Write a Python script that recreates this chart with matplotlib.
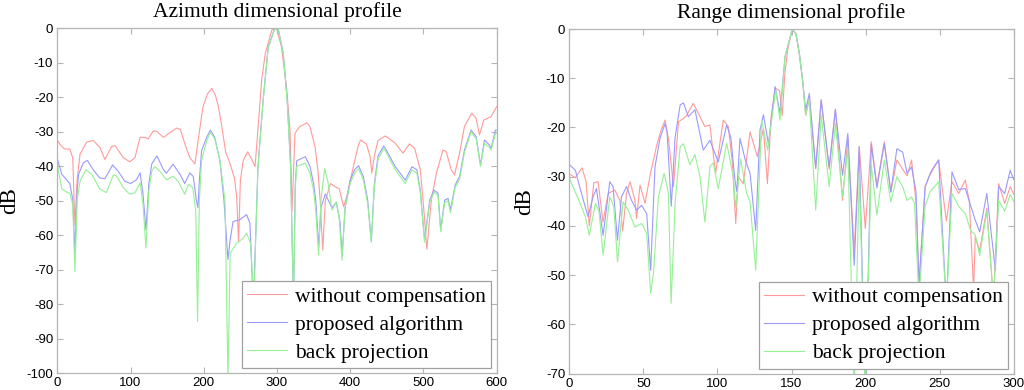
import matplotlib
matplotlib.use("Agg")
import matplotlib.pyplot as plt

# ---------------- data: Azimuth dimensional profile ----------------
az_red_x = [0, 5, 10, 17, 21, 24, 27, 31, 40, 49, 58, 65, 74, 79, 90, 99, 106, 113, 120, 124,
            131, 136, 145, 154, 163, 168, 175, 181, 188, 193, 199, 205, 211, 216, 220, 225, 230,
            236, 242, 245, 247.5, 250, 254, 260, 266, 270, 275, 279, 284, 293, 299.5, 306, 313,
            317.8, 320.5, 324.6, 331, 341, 345, 352, 356, 359, 362.5, 366, 373, 380, 385, 391,
            395, 404, 411, 414, 422, 427, 429.5, 433, 438, 448, 461.5, 472, 481, 488, 495.7,
            500.2, 504.7, 510.8, 517.7, 526.7, 531, 538, 542.5, 549.3, 556, 566, 572, 576.5,
            582.4, 592.4, 600]
az_red_y = [-32.5, -34, -35, -35, -37.5, -57, -44, -36.5, -33, -32.5, -34.5, -38, -34.3, -34,
            -37.5, -38.7, -37.5, -31.6, -31.6, -32.1, -29.7, -29.9, -31.6, -30.2, -28.9, -29.3,
            -34, -37.5, -39.3, -31.4, -22.7, -19, -17.4, -19.5, -22.7, -29, -36, -39.3, -43.5,
            -49, -62, -44, -38.2, -35.8, -38.2, -40.1, -26.6, -15, -7.3, -0.5, 0, -5.3, -17,
            -29.5, -53, -30.4, -28.5, -27.4, -28.5, -34.3, -41.4, -50, -64.3, -50, -45, -46,
            -46.5, -51.7, -49, -40.4, -34, -32.4, -33.5, -37, -42, -37, -32.5, -31.2, -33.3,
            -36.2, -33.5, -34.8, -41, -51.7, -64, -49.8, -42, -35.3, -35.7, -41, -42.5, -36.2,
            -28.5, -24.6, -26.1, -30.9, -26.6, -25.6, -22.7]

az_blue_x = [0, 6, 13, 17, 21, 24, 27, 29, 35.5, 41, 49, 58, 65, 75.5, 83, 92, 100, 108, 113,
             117, 121, 125, 129, 136, 145, 149, 158, 167.5, 174, 181, 185.7, 190, 192, 194, 197,
             204, 209, 215, 222, 227.6, 233, 236, 240, 249, 258.5, 263, 267.6, 271, 274, 281,
             288, 297, 302, 308.6, 314, 318.6, 322.5, 325, 327, 338.6, 345, 350, 353, 357, 360,
             366, 375, 381, 386, 389, 393, 400, 406, 411.4, 418, 424, 428.8, 433, 438, 445.6,
             448, 461.5, 475.2, 484.3, 491, 495.7, 501.6, 508.6, 514.5, 520, 523.6, 529, 533.6,
             537, 543.4, 549.3, 556, 565, 572, 578, 583.3, 590, 592.4, 598.4, 600]
az_blue_y = [-37.8, -42.3, -44, -45, -49.5, -65.2, -47, -42.3, -39, -38.3, -41, -43.4, -43.6,
             -39.6, -41.4, -44.3, -45, -43.9, -41.9, -48, -58.5, -45, -39.3, -37, -41, -42,
             -39.4, -42.3, -45, -41.9, -43, -50, -52, -44, -35.5, -31.6, -29.5, -31.6, -38.4,
             -50, -67, -61.3, -56, -55.5, -54, -56.5, -80, -60, -40, -20.9, -5.4, 0, -0.5, -7.3,
             -20.9, -40, -80, -45, -38.4, -37.2, -40, -45, -50, -63.3, -52, -48, -52, -50.5,
             -56, -66, -52, -44, -41, -39.8, -43, -50, -61.8, -45, -37, -34.1, -34.8, -40.1,
             -44, -40.1, -41, -46.9, -61.4, -49.8, -46.9, -47.8, -58.5, -49.8, -49.3, -52.6,
             -45.4, -43, -35.3, -29.5, -31.4, -39.6, -32.4, -33.8, -34.8, -29.5, -29.5]

az_green_x = [0, 6, 13, 17, 21, 24, 27, 31, 39, 47, 58, 67, 76.5, 81, 90, 99, 106, 113, 117,
              121, 125, 129, 133, 140, 149, 158, 165, 174, 179, 185, 189, 191.5, 194, 197, 204,
              209, 215, 222, 229, 233, 236, 245, 254, 258.5, 264, 268.5, 271, 274, 281, 288,
              297, 302, 308.6, 314, 318.6, 322.5, 325, 327, 338.6, 345, 350, 353, 356.8, 360,
              365, 370, 375, 381, 385, 388.7, 393, 400, 406, 411.4, 418, 424, 428.8, 433, 438,
              445.6, 448, 461.5, 475.2, 484.3, 491, 495.7, 501.6, 508.6, 514.5, 520, 523.6, 529,
              533.6, 537, 543.4, 549.3, 556, 565, 572, 578, 583.3, 590, 592.4, 598.4, 600]
az_green_y = [-39.6, -46.5, -47.5, -47.8, -51, -70.5, -50, -44.3, -41, -42.3, -46.6, -47.6,
              -42.5, -42.8, -46.2, -48.1, -47.7, -44.8, -51, -63.7, -47, -41.4, -40.1, -41.4,
              -43.9, -42.9, -44.3, -48.1, -45.2, -46.2, -53, -85, -50, -38.3, -32.6, -30.1,
              -32.1, -38.3, -50, -102, -65.2, -62.3, -60.8, -59.4, -62.3, -80, -60, -40.5,
              -21.3, -5.6, 0, -0.5, -7.5, -21.3, -40.5, -80, -46, -40, -39.1, -42, -47, -53,
              -65.7, -50, -40.6, -45, -52.7, -50.3, -55, -67.2, -52, -45, -42, -40.7, -44, -51,
              -62, -46, -38, -34.8, -35.5, -41, -45, -41, -42, -47.5, -62, -50.5, -47.5, -48.5,
              -59, -50.5, -50, -53.5, -46, -43.8, -36, -30, -32, -40, -33.3, -34.5, -35.3,
              -30.4, -30.4]

# ---------------- data: Range dimensional profile ----------------
rg_red_x = [0, 4, 8.6, 11.3, 13.5, 16.5, 19.4, 22.7, 26.2, 30.7, 34.1, 36, 38.6, 41, 44.3, 45.4,
            47.7, 51.1, 54.5, 59, 62, 64.6, 67, 70.3, 73.7, 77, 79.1, 83.6, 87, 91.5, 94.9, 98.7,
            103.9, 107.3, 110, 112.3, 114.1, 117.4, 122, 126.9, 131, 133.7, 136.2, 138.9, 141.9,
            143.7, 145.5, 147.5, 150.5, 153, 155.4, 157.7, 159.5, 162, 166.3, 170, 175.4, 179.6,
            184.4, 188, 192.3, 195.7, 199.8, 203.8, 207.6, 212.6, 217, 221.1, 225, 228, 231,
            234, 236, 240.2, 243.6, 249.3, 254.5, 258.3, 262.8, 267.3, 270, 272.9, 274, 277,
            281.8, 286.3, 289.8, 293.9, 297.6, 300]
rg_red_y = [-29.4, -30.2, -28.2, -31, -40, -31.2, -31, -39.2, -33.4, -32.7, -34.8, -41, -33.4,
            -31, -34.8, -38.5, -31.7, -35.4, -29.7, -23.6, -20.5, -18.5, -22.5, -32, -18.8,
            -18.2, -17.6, -15.1, -17.1, -19.8, -19.5, -29.3, -18.5, -19.8, -27, -39.5, -30,
            -31.4, -20.9, -25.9, -20.2, -31.4, -17.9, -12, -12.5, -17.6, -9, -4, 0, -1, -5.3,
            -11.1, -17.5, -14.1, -28.3, -14.4, -28.5, -16.3, -34.8, -22.2, -45, -23.9, -40.5,
            -22.9, -31.7, -22.9, -33.1, -26.6, -28.5, -29.8, -26.6, -35, -52, -32, -29.5, -26.6,
            -39, -31, -33.4, -30.7, -35, -53, -42.2, -45, -36.4, -55, -31.4, -35.4, -32, -33.6]

rg_blue_x = [0.3, 4.1, 6.4, 9.5, 12.6, 16, 18.3, 22.8, 27.3, 29.5, 32.5, 35.2, 38.6, 42, 45.4,
             48.8, 52.2, 54.9, 57.8, 61.2, 64.6, 66, 68.8, 71.4, 74.8, 77, 80.3, 84.8, 90.4,
             94.9, 100.5, 106.2, 109, 111.8, 113, 115.2, 118.6, 122, 125.8, 128.7, 131, 134.4,
             138.9, 142.2, 145.6, 150.5, 153, 155.4, 157.7, 159.5, 162, 166.3, 170, 175.4, 179.6,
             184.4, 188, 192.3, 195.7, 199.8, 203.8, 207.6, 212.6, 217, 221.1, 225, 228, 231,
             234, 236, 240.2, 243.6, 246, 249.3, 254.5, 258.3, 262.8, 267.3, 270, 274, 277,
             281.8, 287.6, 289.8, 293.9, 297.6, 300]
rg_blue_y = [-27.6, -28.7, -31.4, -34.8, -38.1, -34.1, -32.4, -41.9, -31, -32, -42.9, -34.1, -32,
             -34.8, -36.8, -35.8, -37.5, -49, -28, -22.2, -19.2, -21, -36, -22, -15.4, -15,
             -17.8, -16.4, -24.6, -22.6, -27, -19.5, -22, -30.7, -33, -22.2, -26.4, -29.3,
             -40.9, -20.5, -17.4, -23.3, -11.7, -17.1, -5.6, 0, -1, -5.3, -11.1, -16.5, -13.1,
             -28.3, -14.4, -28, -16.3, -29.7, -21.2, -48, -23.9, -75, -23.4, -32.3, -23.3,
             -33.1, -24.3, -25, -29.3, -28, -33, -52, -32, -29.3, -28, -26.6, -56, -29, -32.6,
             -32.4, -35, -38.8, -41.2, -33.4, -49, -32, -33.4, -28.7, -30.6]

rg_green_x = [0, 6.4, 10.8, 13.5, 17.6, 20, 22.8, 27.3, 30, 32.5, 36.3, 39.7, 44.3, 48.8, 52.2,
              54.9, 56.8, 60.1, 64, 66.9, 68.7, 71.4, 74.8, 77, 81.4, 84.8, 88.2, 91.5, 94.9,
              97.2, 100.5, 106.2, 110.7, 112.3, 115.6, 119.7, 122, 125.8, 129.8, 133.9, 139.3,
              142.2, 145.6, 150.5, 153, 155.4, 157.7, 159.5, 162, 166.3, 170, 175.4, 179.6,
              184.4, 188, 192.3, 195.7, 199.8, 203.8, 207.6, 212.6, 217, 221.1, 225, 228, 231,
              233, 236, 240.2, 243.6, 249.3, 254.5, 258.3, 262.8, 267.3, 271, 274, 277, 281.8,
              286.3, 289.8, 293.9, 297.6, 300]
rg_green_y = [-30.3, -34.8, -38.1, -41.9, -35.4, -37, -45.9, -34.1, -36, -47.3, -35.1, -36.8,
              -40.2, -39.5, -41.5, -53.7, -49.6, -34.1, -29.3, -33.4, -55.7, -35.4, -23.9, -23.3,
              -27.6, -25.5, -30, -39.2, -27.9, -27.2, -32.4, -23.2, -30, -36.4, -26.4, -33.4,
              -35.1, -49, -18.5, -24.6, -12.4, -18.5, -5.6, 0, -1, -5.3, -11.1, -17.5, -14.4,
              -36.8, -17.5, -32, -19.2, -34.1, -24.3, -75, -29.3, -75, -27.6, -37.8, -26.6,
              -35.1, -30, -32, -34.8, -34.1, -35.4, -55, -36, -33, -31, -56, -33.4, -36, -37.5,
              -41, -41.8, -46, -37, -55, -34.8, -37, -33.6, -35]

labels = ["without compensation", "proposed algorithm", "back projection"]
titles = ["Azimuth dimensional profile", "Range dimensional profile"]
az_xticks = [0, 100, 200, 300, 400, 500, 600]
az_yticks = [0, -10, -20, -30, -40, -50, -60, -70, -80, -90, -100]
rg_xticks = [0, 50, 100, 150, 200, 250, 300]
rg_yticks = [0, -10, -20, -30, -40, -50, -60, -70]

# ---------------- figure ----------------
serif = ["Liberation Serif", "DejaVu Serif"]
sans = ["Liberation Sans", "DejaVu Sans"]
colors = ["#ff9a9a", "#9a9aff", "#96f096"]
spine_col = "#b4b4b4"

fig = plt.figure(figsize=(10.24, 3.90), dpi=100)
ax1 = fig.add_axes([0.056, 0.0428, 0.429, 0.8846])
ax2 = fig.add_axes([0.556, 0.0418, 0.434, 0.8838])

panels = [
    (ax1, [(az_red_x, az_red_y), (az_blue_x, az_blue_y), (az_green_x, az_green_y)],
     (0, 600), (-100, 0), az_xticks, az_yticks, titles[0]),
    (ax2, [(rg_red_x, rg_red_y), (rg_blue_x, rg_blue_y), (rg_green_x, rg_green_y)],
     (0, 300), (-70, 0), rg_xticks, rg_yticks, titles[1]),
]

for ax, series, xl, yl, xt, yt, title in panels:
    for (xs, ys), c, lab in zip(series, colors, labels):
        ax.plot(xs, ys, color=c, lw=0.8, label=lab)
    ax.set_xlim(*xl)
    ax.set_ylim(*yl)
    ax.set_xticks(xt)
    ax.set_yticks(yt)
    ax.set_xticklabels([str(v) for v in xt], fontfamily=sans, fontsize=9.5)
    ax.set_yticklabels([str(v) for v in yt], fontfamily=sans, fontsize=9.5)
    ax.tick_params(direction="in", length=4, color=spine_col, top=True, right=True,
                   labelcolor="black", pad=3)
    for s in ax.spines.values():
        s.set_color(spine_col)
        s.set_linewidth(0.9)
    ax.set_title(title, fontfamily=serif, fontsize=15.5, pad=8)
    ax.set_ylabel("dB", fontfamily=serif, fontsize=16.5)
    leg = ax.legend(loc="lower right", bbox_to_anchor=(0.987, 0.0145),
                    prop={"family": serif, "size": 15.5}, frameon=True, fancybox=False,
                    edgecolor="#a0a0a0", framealpha=1, borderpad=0.25,
                    handlelength=1.85, handletextpad=0.35, labelspacing=0.37,
                    borderaxespad=0)
    leg.get_frame().set_linewidth(0.9)

ax1.yaxis.set_label_coords(-0.085, 0.5)
ax2.yaxis.set_label_coords(-0.077, 0.5)

fig.savefig("out.png", dpi=100)
